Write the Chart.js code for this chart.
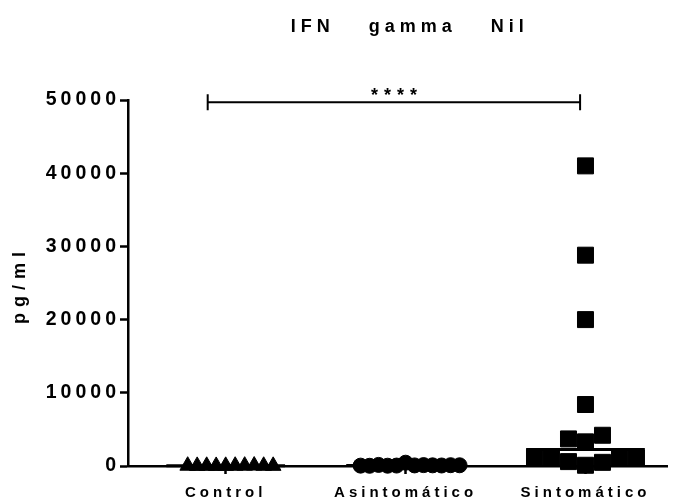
<!DOCTYPE html>
<html>
<head>
<meta charset="utf-8">
<script src="https://cdn.jsdelivr.net/npm/chart.js@4.4.1/dist/chart.umd.min.js"></script>
<style>
    html, body { margin: 0; padding: 0; background: #fff; }
</style>
</head>
<body>
<canvas id="ifnChart" width="680" height="504"></canvas>
<script>
const chartTitle = 'IFN gamma Nil';
const yAxisTitle = 'pg/ml';
const groups = ['Control', 'Asintomático', 'Sintomático'];
const yTicks = [0, 10000, 20000, 30000, 40000, 50000];

// pg/ml per subject
const controlValues = [20, 35, 10, 45, 25, 60, 15, 30, 40, 22];
const asintomaticoValues = [450, 80, 60, 120, 40, 90, 150, 70, 30, 110, 50, 100];
const sintomaticoValues = [41000, 28800, 20000, 8400, 3300, 4200, 3700, 100, 500, 600, 1100, 1100, 1100, 1200];

const significance = '****';

const FONT = '"Liberation Sans", Arial, sans-serif';

function median(values) {
    const s = [...values].sort((a, b) => a - b);
    const m = s.length >> 1;
    return s.length % 2 ? s[m] : (s[m - 1] + s[m]) / 2;
}

const groupSeries = [
    { values: controlValues, pointStyle: 'triangle', radius: 9, step: 9.5, height: 13 },
    { values: asintomaticoValues, pointStyle: 'circle', radius: 7.5, step: 9, height: 14 },
    { values: sintomaticoValues, pointStyle: 'rect', radius: 11.3, step: 17, height: 16 }
];

// simple beeswarm: spread points sideways until they stop colliding
function swarm(chart, values, groupIndex, step, height) {
    const xs = chart.scales.x;
    const ys = chart.scales.y;
    const cx = xs.getPixelForValue(groupIndex);
    const placed = [];
    return values.map(v => {
        const py = ys.getPixelForValue(v);
        for (let k = 0; k < 200; k++) {
            const off = (k % 2 ? 1 : -1) * Math.ceil(k / 2) * step;
            const px = cx + off;
            const hit = placed.some(p => Math.abs(p.x - px) < step - 0.5 && Math.abs(p.y - py) < height);
            if (!hit) {
                placed.push({ x: px, y: py });
                return xs.getValueForPixel(px);
            }
        }
        return groupIndex;
    });
}

const pointDatasets = groupSeries.map((g, i) => ({
    label: groups[i],
    data: g.values.map(v => ({ x: i, y: v })),
    pointStyle: g.pointStyle,
    pointRadius: g.radius,
    pointBackgroundColor: '#000',
    pointBorderColor: '#000',
    pointBorderWidth: 1,
    showLine: false,
    clip: false
}));

const medianDatasets = groupSeries.map((g, i) => {
    const m = median(g.values);
    return {
        label: groups[i] + ' median',
        type: 'line',
        data: [{ x: i - 0.33, y: m }, { x: i + 0.33, y: m }],
        borderColor: '#000',
        borderWidth: 3,
        pointRadius: 0,
        clip: false
    };
});

// Prism-style wide letter spacing; y axis is drawn before the datasets, x axis after
const textSpacingPlugin = {
    id: 'textSpacing',
    beforeUpdate(chart) { chart.ctx.letterSpacing = '4px'; },
    beforeDraw(chart) { chart.ctx.letterSpacing = '4px'; },
    afterDatasetsDraw(chart) { chart.ctx.letterSpacing = '4.5px'; }
};

const annotationPlugin = {
    id: 'annotations',
    afterDraw(chart) {
        const { ctx, chartArea, scales: { x, y } } = chart;
        ctx.save();
        // significance bracket
        const x1 = x.getPixelForValue(-0.1);
        const x2 = x.getPixelForValue(1.97);
        const yy = y.getPixelForValue(49700);
        ctx.strokeStyle = '#000';
        ctx.lineWidth = 2;
        ctx.beginPath();
        ctx.moveTo(x1, yy); ctx.lineTo(x2, yy);
        ctx.moveTo(x1, yy - 8); ctx.lineTo(x1, yy + 8);
        ctx.moveTo(x2, yy - 8); ctx.lineTo(x2, yy + 8);
        ctx.stroke();
        ctx.fillStyle = '#000';
        ctx.textAlign = 'center';
        ctx.textBaseline = 'alphabetic';
        ctx.font = 'bold 18px ' + FONT;
        ctx.letterSpacing = '6px';
        ctx.fillText(significance, (x1 + x2) / 2 + 3, yy - 1);
        // chart title
        ctx.font = 'bold 18px ' + FONT;
        ctx.letterSpacing = '5px';
        ctx.wordSpacing = '24px';
        ctx.textBaseline = 'middle';
        ctx.fillText(chartTitle, (chartArea.left + chartArea.right) / 2 + 12, 27);
        // y axis title
        ctx.wordSpacing = '0px';
        ctx.font = 'bold 18px ' + FONT;
        ctx.letterSpacing = '6px';
        ctx.translate(20, (chartArea.top + chartArea.bottom) / 2 + 5);
        ctx.rotate(-Math.PI / 2);
        ctx.fillText(yAxisTitle, 3, 0);
        ctx.restore();
    }
};

const ctx = document.getElementById('ifnChart').getContext('2d');
const chart = new Chart(ctx, {
    type: 'scatter',
    data: { datasets: [...pointDatasets, ...medianDatasets] },
    options: {
        responsive: false,
        animation: false,
        events: [],
        layout: { padding: { top: 100, right: 0, bottom: 0, left: 0 } },
        plugins: {
            legend: { display: false },
            tooltip: { enabled: false }
        },
        scales: {
            x: {
                type: 'linear',
                min: -0.543,
                max: 2.457,
                z: 1,
                afterBuildTicks: scale => { scale.ticks = groups.map((_, i) => ({ value: i })); },
                afterFit: scale => { scale.height = 38; },
                ticks: {
                    callback: v => groups[v],
                    color: '#000',
                    padding: 10,
                    maxRotation: 0,
                    autoSkip: false,
                    font: { family: FONT, size: 15, weight: 'bold' }
                },
                grid: {
                    drawOnChartArea: false,
                    drawTicks: true,
                    tickLength: 8,
                    tickWidth: 2.5,
                    tickColor: '#000'
                },
                border: { display: true, color: '#000', width: 2.5 }
            },
            y: {
                min: 0,
                max: 50000,
                afterBuildTicks: scale => { scale.ticks = yTicks.map(v => ({ value: v })); },
                afterFit: scale => { scale.width = 128; },
                ticks: {
                    callback: v => String(v),
                    color: '#000',
                    padding: 0,
                    font: { family: FONT, size: 19.5, weight: 'bold' }
                },
                grid: {
                    drawOnChartArea: false,
                    drawTicks: true,
                    tickLength: 8,
                    tickWidth: 2.5,
                    tickColor: '#000'
                },
                border: { display: true, color: '#000', width: 2.5 }
            }
        }
    },
    plugins: [textSpacingPlugin, annotationPlugin]
});

groupSeries.forEach((g, i) => {
    const xs = swarm(chart, g.values, i, g.step, g.height);
    chart.data.datasets[i].data = g.values.map((v, j) => ({ x: xs[j], y: v }));
});
chart.update('none');
</script>
</body>
</html>
